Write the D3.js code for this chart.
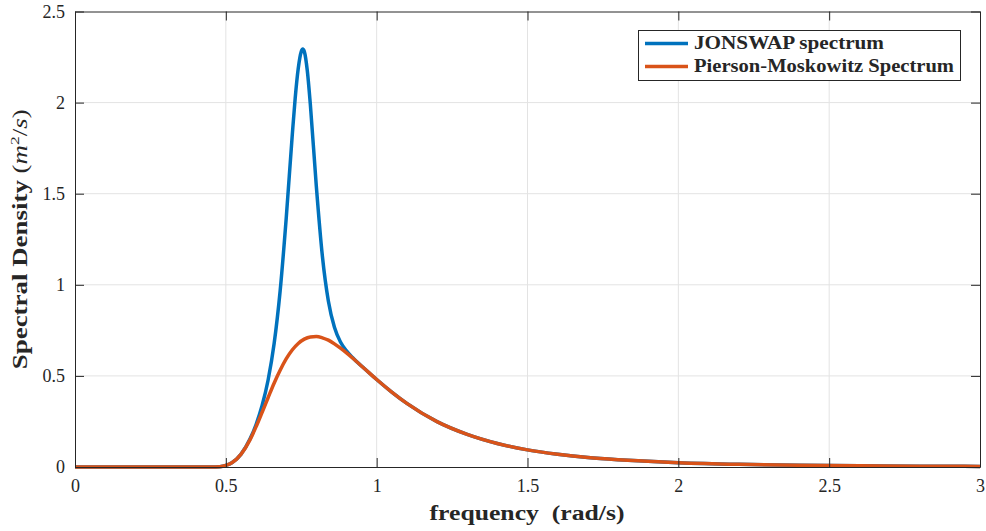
<!DOCTYPE html>
<html>
<head>
<meta charset="utf-8">
<script src="https://cdn.jsdelivr.net/npm/d3@7"></script>
<style>
  html, body { margin: 0; padding: 0; background: #fff; }
  svg { display: block; }
  text { font-family: "Liberation Serif", "DejaVu Serif", serif; fill: #262626; }
</style>
</head>
<body>
<svg id="chart" width="986" height="531"></svg>
<script>
// ---- data ----
const xTicks = [0, 0.5, 1, 1.5, 2, 2.5, 3];
const xTickLabels = ["0", "0.5", "1", "1.5", "2", "2.5", "3"];
const yTicks = [0, 0.5, 1, 1.5, 2, 2.5];
const yTickLabels = ["0", "0.5", "1", "1.5", "2", "2.5"];

const pmFreq = [0, 0.1, 0.2, 0.3, 0.4, 0.45, 0.48, 0.5, 0.52, 0.55, 0.58, 0.6, 0.62, 0.64, 0.66, 0.68, 0.7, 0.72, 0.74, 0.76, 0.78, 0.8, 0.82, 0.84, 0.86, 0.88, 0.9, 0.92, 0.96, 1.0, 1.05, 1.1, 1.2, 1.3, 1.4, 1.5, 1.6, 1.7, 1.8, 1.9, 2.0, 2.2, 2.4, 2.6, 2.8, 3.0];
const pmValues = [0, 0, 0, 0, 0, 0.0003, 0.002, 0.009, 0.023, 0.069, 0.149, 0.22, 0.299, 0.38, 0.46, 0.531, 0.593, 0.642, 0.678, 0.702, 0.714, 0.716, 0.709, 0.696, 0.676, 0.652, 0.626, 0.598, 0.539, 0.48, 0.411, 0.349, 0.249, 0.179, 0.129, 0.094, 0.07, 0.052, 0.04, 0.031, 0.024, 0.015, 0.0098, 0.0066, 0.0046, 0.0032];

const jsFreq = [0, 0.1, 0.2, 0.3, 0.4, 0.45, 0.48, 0.5, 0.52, 0.55, 0.58, 0.6, 0.62, 0.64, 0.66, 0.68, 0.7, 0.72, 0.73, 0.74, 0.75, 0.755, 0.76, 0.77, 0.78, 0.8, 0.82, 0.84, 0.86, 0.88, 0.9, 0.92, 0.96, 1.0, 1.05, 1.1, 1.2, 1.3, 1.4, 1.5, 1.6, 1.7, 1.8, 1.9, 2.0, 2.2, 2.4, 2.6, 2.8, 3.0];
const jsValues = [0, 0, 0, 0, 0, 0.0003, 0.002, 0.009, 0.023, 0.069, 0.153, 0.232, 0.336, 0.476, 0.676, 0.966, 1.362, 1.818, 2.026, 2.187, 2.28, 2.294, 2.281, 2.176, 1.993, 1.54, 1.158, 0.91, 0.767, 0.686, 0.638, 0.601, 0.539, 0.48, 0.411, 0.349, 0.249, 0.179, 0.129, 0.094, 0.07, 0.052, 0.04, 0.031, 0.024, 0.015, 0.0098, 0.0066, 0.0046, 0.0032];

const seriesNames = ["JONSWAP spectrum", "Pierson-Moskowitz Spectrum"];
const seriesColors = ["#0072BD", "#D95319"];

// ---- layout ----
const svg = d3.select("#chart");
const L = 75, R = 980, T = 11.5, B = 467;
const x = d3.scaleLinear().domain([0, 3]).range([L, R]);
const y = d3.scaleLinear().domain([0, 2.5]).range([B, T]);

// grid
const grid = svg.append("g");
grid.selectAll(".gx").data(xTicks.slice(1, -1)).enter().append("line")
  .attr("x1", d => x(d)).attr("x2", d => x(d)).attr("y1", T).attr("y2", B)
  .attr("stroke", "#e3e3e3").attr("stroke-width", 1);
grid.selectAll(".gy").data(yTicks.slice(1, -1)).enter().append("line")
  .attr("y1", d => y(d)).attr("y2", d => y(d)).attr("x1", L).attr("x2", R)
  .attr("stroke", "#e3e3e3").attr("stroke-width", 1);

// clip
svg.append("clipPath").attr("id", "clip").append("rect")
  .attr("x", L).attr("y", T - 2).attr("width", R - L).attr("height", B - T + 4);

const line = d3.line().x(d => x(d[0])).y(d => y(d[1])).curve(d3.curveMonotoneX);
const jsData = jsFreq.map((f, i) => [f, jsValues[i]]);
const pmData = pmFreq.map((f, i) => [f, pmValues[i]]);

const plot = svg.append("g").attr("clip-path", "url(#clip)");
plot.append("path").datum(jsData).attr("d", line)
  .attr("fill", "none").attr("stroke", seriesColors[0]).attr("stroke-width", 3.5).attr("stroke-linejoin", "round");
plot.append("path").datum(pmData).attr("d", line)
  .attr("fill", "none").attr("stroke", seriesColors[1]).attr("stroke-width", 3.5).attr("stroke-linejoin", "round");

// axes (MATLAB-like, ticks inward, box on)
const tickLen = 9;
const xAxisB = d3.axisBottom(x).tickValues(xTicks).tickFormat((d, i) => xTickLabels[i]).tickSizeInner(-tickLen).tickSizeOuter(0).tickPadding(12);
const xAxisT = d3.axisTop(x).tickValues(xTicks).tickFormat("").tickSizeInner(-tickLen).tickSizeOuter(0);
const yAxisL = d3.axisLeft(y).tickValues(yTicks).tickFormat((d, i) => yTickLabels[i]).tickSizeInner(-tickLen).tickSizeOuter(0).tickPadding(10);
const yAxisR = d3.axisRight(y).tickValues(yTicks).tickFormat("").tickSizeInner(-tickLen).tickSizeOuter(0);

function styleAxis(g) {
  g.select(".domain").attr("stroke", "#262626").attr("stroke-width", 1);
  g.selectAll(".tick line").attr("stroke", "#262626").attr("stroke-width", 1);
  g.selectAll(".tick text").attr("font-family", "Liberation Serif, DejaVu Serif, serif").attr("font-size", 18).attr("fill", "#262626");
}
svg.append("g").attr("transform", `translate(0,${B})`).call(xAxisB).call(styleAxis);
svg.append("g").attr("transform", `translate(0,${T})`).call(xAxisT).call(styleAxis);
svg.append("g").attr("transform", `translate(${L},0)`).call(yAxisL).call(styleAxis);
svg.append("g").attr("transform", `translate(${R},0)`).call(yAxisR).call(styleAxis);

// axis labels
svg.append("text").attr("x", 527).attr("y", 520).attr("text-anchor", "middle")
  .attr("font-size", 20).attr("font-weight", "bold").attr("xml:space", "preserve")
  .attr("textLength", 195).attr("lengthAdjust", "spacingAndGlyphs")
  .text("frequency  (rad/s)");

const yl = svg.append("text").attr("transform", `translate(27,${(T + B) / 2}) rotate(-90)`)
  .attr("text-anchor", "middle").attr("font-size", 20).attr("font-weight", "bold")
  .attr("textLength", 260).attr("lengthAdjust", "spacingAndGlyphs");
yl.append("tspan").text("Spectral Density ");
yl.append("tspan").attr("font-weight", "normal").text("(");
yl.append("tspan").attr("font-weight", "normal").attr("font-style", "italic").text("m");
yl.append("tspan").attr("font-weight", "normal").attr("font-size", 13).attr("dy", -8).text("2");
yl.append("tspan").attr("font-weight", "normal").attr("dy", 8).text("/");
yl.append("tspan").attr("font-weight", "normal").attr("font-style", "italic").text("s");
yl.append("tspan").attr("font-weight", "normal").text(")");

// legend
const legendWidths = [190, 260];
const lg = svg.append("g");
lg.append("rect").attr("x", 638.5).attr("y", 30.5).attr("width", 322).attr("height", 50)
  .attr("fill", "#fff").attr("stroke", "#262626").attr("stroke-width", 1);
seriesNames.forEach((name, i) => {
  const cy = 43.5 + i * 23;
  lg.append("line").attr("x1", 645).attr("x2", 688).attr("y1", cy).attr("y2", cy)
    .attr("stroke", seriesColors[i]).attr("stroke-width", 3.5);
  lg.append("text").attr("x", 694).attr("y", cy + 5.5).attr("font-size", 18).attr("font-weight", "bold")
    .attr("textLength", legendWidths[i]).attr("lengthAdjust", "spacingAndGlyphs").text(name);
});
</script>
</body>
</html>
